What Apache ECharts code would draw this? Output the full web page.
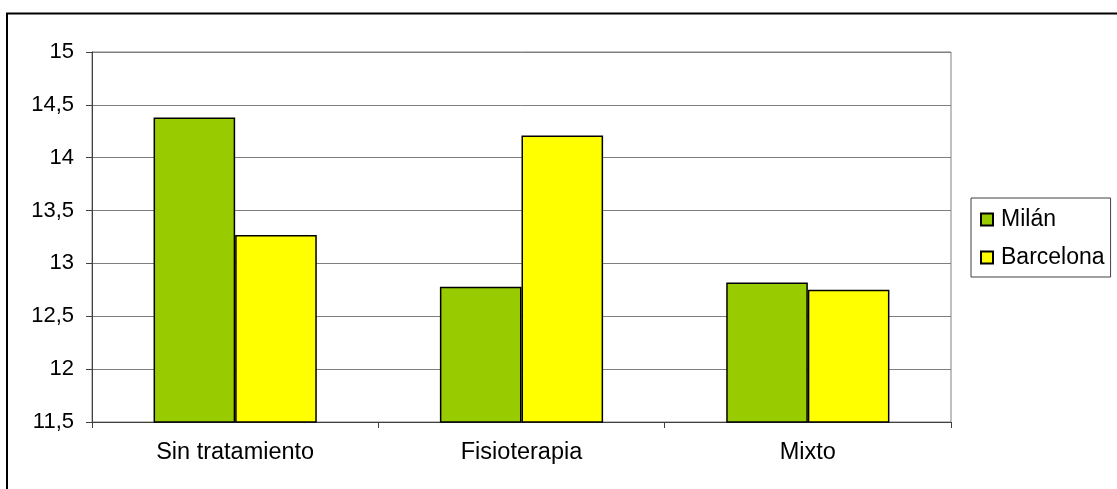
<!DOCTYPE html>
<html>
<head>
<meta charset="utf-8">
<script src="https://cdn.jsdelivr.net/npm/echarts@6/dist/echarts.min.js"></script>
<style>
  html, body { margin: 0; padding: 0; background: #fff; }
  #chart { width: 1117px; height: 489px; }
</style>
</head>
<body>
<div id="chart"></div>
<script>
// Treatment groups on the x axis
const categories = ['Sin tratamiento', 'Fisioterapia', 'Mixto'];
// Mean score per city
const milan = [14.38, 12.78, 12.82];
const barcelona = [13.27, 14.21, 12.75];
// Value axis range and step
const yMin = 11.5;
const yMax = 15;
const yStep = 0.5;

const FONT = '"Liberation Sans", Arial, sans-serif';

const chart = echarts.init(document.getElementById('chart'), null, { renderer: 'canvas' });

chart.setOption({
  backgroundColor: '#ffffff',
  animation: false,
  textStyle: { fontFamily: FONT },
  graphic: [
    {
      type: 'rect',
      silent: true,
      z: 100,
      shape: { x: 7, y: 13.5, width: 1300, height: 700 },
      style: { fill: null, stroke: '#000000', lineWidth: 2 }
    }
  ],
  grid: {
    left: 92,
    top: 52,
    right: 166,
    bottom: 67,
    show: true,
    borderColor: '#808080',
    borderWidth: 1,
    backgroundColor: '#ffffff'
  },
  legend: {
    orient: 'vertical',
    left: 971,
    top: 198,
    padding: [10, 6, 8, 9],
    itemGap: 15,
    itemWidth: 12,
    itemHeight: 12,
    borderColor: '#404040',
    borderWidth: 1,
    backgroundColor: '#ffffff',
    icon: 'rect',
    textStyle: {
      fontFamily: FONT,
      fontSize: 23,
      color: '#000000',
      padding: [0, 0, 0, 3]
    },
    data: ['Milán', 'Barcelona']
  },
  xAxis: {
    type: 'category',
    data: categories,
    axisLine: { show: true, lineStyle: { color: '#404040', width: 1 } },
    axisTick: { show: true, length: 6, lineStyle: { color: '#404040' } },
    axisLabel: {
      fontFamily: FONT,
      fontSize: 23.5,
      color: '#000000',
      margin: 19
    },
    splitLine: { show: false }
  },
  yAxis: {
    type: 'value',
    min: yMin,
    max: yMax,
    interval: yStep,
    axisLine: { show: true, lineStyle: { color: '#404040', width: 1 } },
    axisTick: { show: true, length: 6, lineStyle: { color: '#404040' } },
    axisLabel: {
      fontFamily: FONT,
      fontSize: 22,
      color: '#000000',
      margin: 18,
      formatter: v => String(Math.round(v * 10) / 10).replace('.', ',')
    },
    splitLine: { show: true, lineStyle: { color: '#7f7f7f', width: 1 } }
  },
  series: [
    {
      name: 'Milán',
      type: 'bar',
      data: milan,
      barGap: '0%',
      barCategoryGap: '43%',
      itemStyle: { color: '#99cc00', borderColor: '#000000', borderWidth: 1.5 }
    },
    {
      name: 'Barcelona',
      type: 'bar',
      data: barcelona,
      barGap: '0%',
      barCategoryGap: '43%',
      itemStyle: { color: '#ffff00', borderColor: '#000000', borderWidth: 1.5 }
    }
  ]
});
</script>
</body>
</html>
